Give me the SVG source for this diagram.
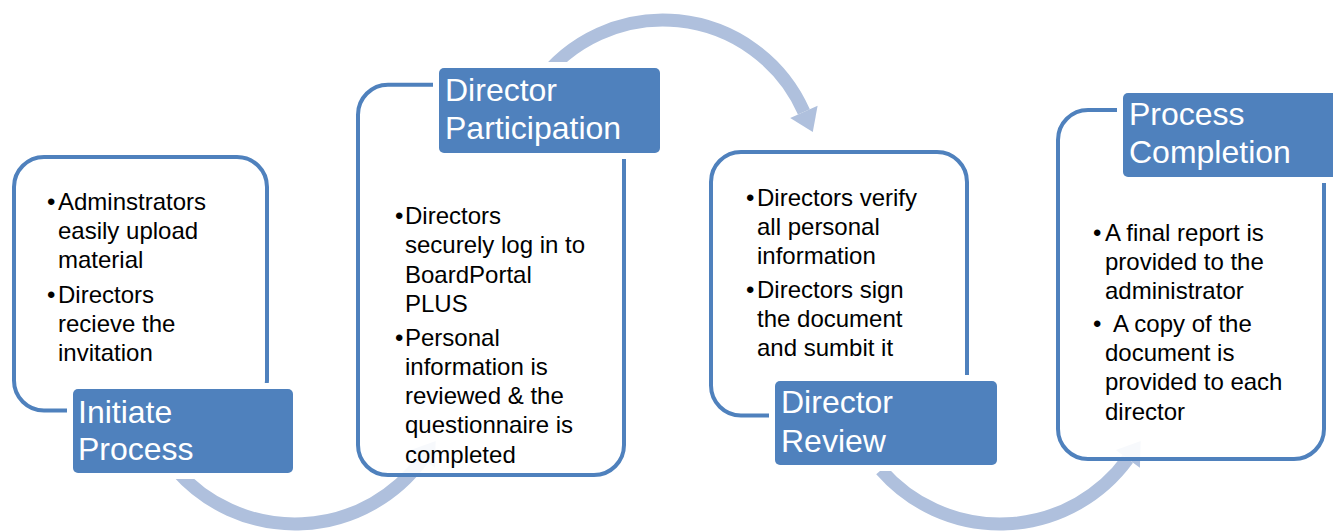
<svg xmlns="http://www.w3.org/2000/svg" width="1333" height="531" viewBox="0 0 1333 531">
<style>
.arc{fill:none;stroke:#afc0dd;stroke-width:13}
.head{fill:#afc0dd}
.box{fill:#ffffff;fill-opacity:0.9;stroke:#4f81bd;stroke-width:4}
.lab{fill:#4f81bd;stroke:#ffffff;stroke-width:12;paint-order:stroke}
.t{font-family:"Liberation Sans",Arial,sans-serif;font-size:32px;fill:#ffffff}
.b{font-family:"Liberation Sans",Arial,sans-serif;font-size:24px;fill:#000000}
</style>
<rect width="1333" height="531" fill="#ffffff"/>
<g id="connectors">
<path class="arc" d="M176.1,470 A158,158 0 0 0 422.8,458.9"/>
<polygon class="head" points="434.9,467.7 435.7,441.1 410.7,450.1"/>
<path class="arc" d="M537.3,85 A154,154 0 0 1 803.9,111.9"/>
<polygon class="head" points="817.6,105.8 812.8,132 790.2,118"/>
<path class="arc" d="M881.1,470 A158,158 0 0 0 1127.8,458.9"/>
<polygon class="head" points="1139.9,467.7 1140.7,441.1 1115.7,450.1"/>
</g>
<g id="node1">
<rect class="box" x="14" y="157" width="253" height="253.5" rx="30"/>
<rect class="lab" x="73" y="389" width="220" height="84" rx="5"/>
<text class="t" x="78" y="423">Initiate</text>
<text class="t" x="78" y="460">Process</text>
<text class="b" x="47" y="210">•</text><text class="b" x="58" y="210">Adminstrators</text>
<text class="b" x="58" y="239">easily upload</text>
<text class="b" x="58" y="268">material</text>
<text class="b" x="47" y="302.5">•</text><text class="b" x="58" y="302.5">Directors</text>
<text class="b" x="58" y="331.5">recieve the</text>
<text class="b" x="58" y="360.5">invitation</text>
</g>
<g id="node2">
<rect class="box" x="358" y="84.7" width="266" height="390.3" rx="30"/>
<rect class="lab" x="439" y="68" width="221" height="85" rx="5"/>
<text class="t" x="445" y="101">Director</text>
<text class="t" x="445" y="139">Participation</text>
<text class="b" x="395" y="224">•</text><text class="b" x="405" y="224">Directors</text>
<text class="b" x="405" y="253">securely log in to</text>
<text class="b" x="405" y="283">BoardPortal</text>
<text class="b" x="405" y="312">PLUS</text>
<text class="b" x="395" y="346">•</text><text class="b" x="405" y="346">Personal</text>
<text class="b" x="405" y="375">information is</text>
<text class="b" x="405" y="404">reviewed &amp; the</text>
<text class="b" x="405" y="433">questionnaire is</text>
<text class="b" x="405" y="462.5">completed</text>
</g>
<g id="node3">
<rect class="box" x="711" y="152" width="256" height="263.5" rx="30"/>
<rect class="lab" x="775" y="381" width="222" height="84" rx="5"/>
<text class="t" x="781" y="413">Director</text>
<text class="t" x="781" y="451.5">Review</text>
<text class="b" x="746" y="205.5">•</text><text class="b" x="757" y="205.5">Directors verify</text>
<text class="b" x="757" y="234.5">all personal</text>
<text class="b" x="757" y="263.5">information</text>
<text class="b" x="746" y="298">•</text><text class="b" x="757" y="298">Directors sign</text>
<text class="b" x="757" y="327">the document</text>
<text class="b" x="757" y="356">and sumbit it</text>
</g>
<g id="node4">
<rect class="box" x="1058" y="110" width="266" height="349" rx="30"/>
<rect class="lab" x="1123" y="93" width="222" height="84" rx="5"/>
<text class="t" x="1129" y="125">Process</text>
<text class="t" x="1129" y="163">Completion</text>
<text class="b" x="1093" y="240.5">•</text><text class="b" x="1105" y="240.5">A final report is</text>
<text class="b" x="1105" y="269.5">provided to the</text>
<text class="b" x="1105" y="298.5">administrator</text>
<text class="b" x="1093" y="332">•</text><text class="b" x="1113" y="332">A copy of the</text>
<text class="b" x="1105" y="361">document is</text>
<text class="b" x="1105" y="390">provided to each</text>
<text class="b" x="1105" y="419.5">director</text>
</g>
</svg>
